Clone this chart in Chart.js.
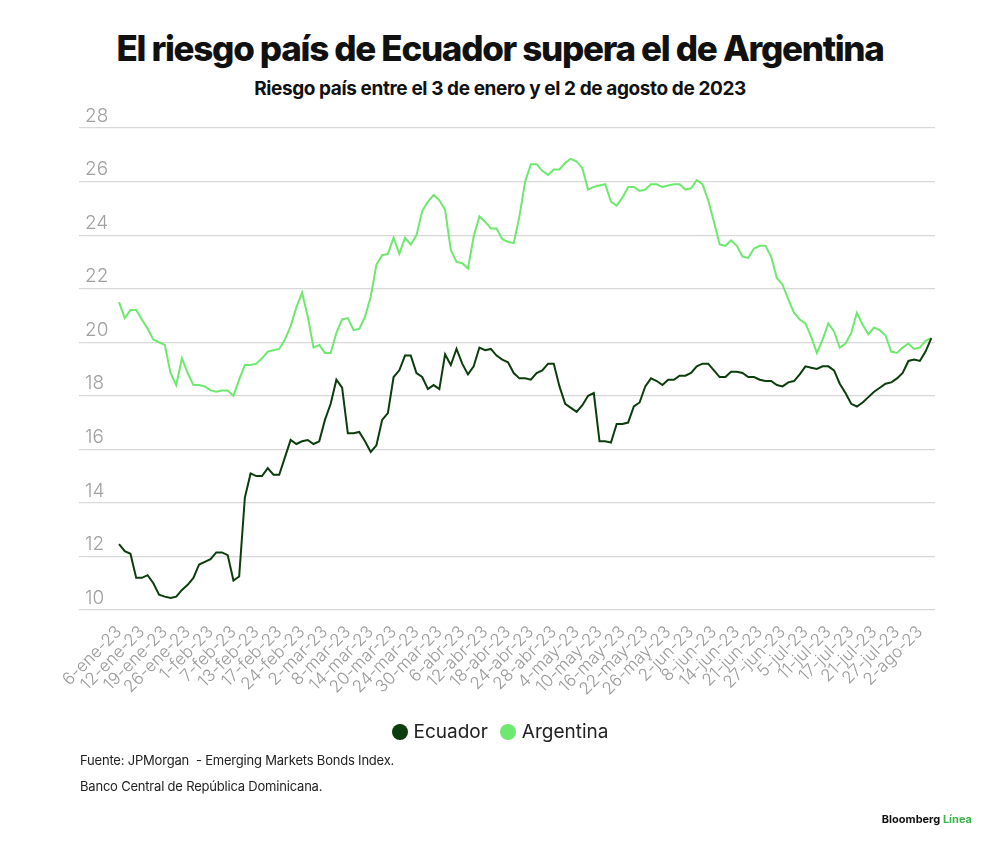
<!DOCTYPE html>
<html><head><meta charset="utf-8">
<script src="https://cdn.jsdelivr.net/npm/chart.js@4"></script>
<style>
body{margin:0;width:1000px;height:848px;background:#fff;font-family:Inter,"Noto Sans",sans-serif;position:relative;overflow:hidden}
#t{position:absolute;top:27px;left:0;width:1000px;text-align:center;font-weight:800;font-size:35px;letter-spacing:-1.3px;color:#111}
#s{position:absolute;top:77px;left:0;width:1000px;text-align:center;font-weight:700;font-size:19px;letter-spacing:-0.4px;color:#111}
canvas{position:absolute;left:0;top:0}
#lg{position:absolute;top:720px;left:0;width:1000px;text-align:center;font-size:19px;color:#222}
#lg span{display:inline-block;margin:0 6px}
#lg i{display:inline-block;width:16px;height:16px;border-radius:50%;vertical-align:-2px;margin-right:6px}
.f{position:absolute;left:80px;font-size:13px;color:#222;letter-spacing:-0.2px}
#b{position:absolute;right:28px;top:812px;font-size:11px;font-weight:700;color:#111}
</style></head><body>
<div id="t">El riesgo país de Ecuador supera el de Argentina</div>
<div id="s">Riesgo país entre el 3 de enero y el 2 de agosto de 2023</div>
<canvas id="c" width="1000" height="848"></canvas>
<div id="lg"><span><i style="background:#0c3d0c"></i>Ecuador</span><span><i style="background:#6fe86f"></i>Argentina</span></div>
<div class="f" style="top:752px">Fuente: JPMorgan &nbsp;- Emerging Markets Bonds Index.</div>
<div class="f" style="top:778px">Banco Central de República Dominicana.</div>
<div id="b">Bloomberg <span style="color:#3bb54a">Línea</span></div>
<script>
const tickLabels=["6-ene-23","12-ene-23","19-ene-23","26-ene-23","1-feb-23","7-feb-23","13-feb-23","17-feb-23","24-feb-23","2-mar-23","8-mar-23","14-mar-23","20-mar-23","24-mar-23","30-mar-23","6-abr-23","12-abr-23","18-abr-23","24-abr-23","28-abr-23","4-may-23","10-may-23","16-may-23","22-may-23","26-may-23","2-jun-23","8-jun-23","14-jun-23","21-jun-23","27-jun-23","5-jul-23","11-jul-23","17-jul-23","21-jul-23","27-jul-23","2-ago-23"];
const ecuador=[12.46,12.2,12.1,11.2,11.2,11.3,11.0,10.57,10.5,10.45,10.5,10.75,10.94,11.2,11.7,11.8,11.9,12.15,12.15,12.05,
11.1,11.25,14.2,15.1,15.0,15.0,15.3,15.05,15.05,15.7,16.35,16.2,16.3,16.35,16.2,16.3,17.1,17.7,18.6,18.3,
16.6,16.6,16.65,16.3,15.9,16.15,17.1,17.35,18.7,18.95,19.5,19.5,18.85,18.7,18.25,18.4,18.25,19.55,19.15,19.75,
19.2,18.8,19.1,19.8,19.7,19.75,19.5,19.35,19.25,18.85,18.65,18.65,18.6,18.85,18.95,19.2,19.2,18.35,17.7,17.55,
17.4,17.65,18.0,18.1,16.3,16.3,16.25,16.95,16.95,17.0,17.6,17.75,18.35,18.65,18.55,18.4,18.6,18.6,18.75,18.75,
18.85,19.1,19.2,19.2,18.95,18.7,18.7,18.9,18.9,18.85,18.7,18.7,18.6,18.55,18.55,18.4,18.35,18.5,18.55,18.8,
19.1,19.05,19.0,19.1,19.1,18.95,18.45,18.1,17.7,17.6,17.75,17.95,18.15,18.3,18.45,18.5,18.65,18.85,19.3,19.35,
19.3,19.65,20.15];
const argentina=[21.5,20.9,21.2,21.2,20.85,20.5,20.1,20.0,19.9,18.85,18.4,19.4,18.85,18.4,18.4,18.35,18.2,18.15,18.2,18.2,
18.0,18.6,19.15,19.15,19.2,19.4,19.65,19.7,19.75,20.1,20.6,21.3,21.85,20.95,19.8,19.9,19.6,19.6,20.35,20.85,
20.9,20.45,20.5,20.95,21.7,22.9,23.25,23.3,23.9,23.3,23.9,23.65,24.0,24.9,25.25,25.5,25.3,24.95,23.45,23.0,
22.95,22.75,23.95,24.7,24.5,24.25,24.25,23.85,23.75,23.7,24.7,26.0,26.65,26.65,26.4,26.25,26.45,26.45,26.7,26.85,
26.75,26.5,25.7,25.8,25.85,25.9,25.25,25.1,25.4,25.8,25.8,25.65,25.7,25.9,25.9,25.8,25.85,25.9,25.9,25.7,
25.75,26.05,25.9,25.3,24.5,23.65,23.6,23.8,23.6,23.2,23.15,23.5,23.6,23.6,23.2,22.4,22.15,21.6,21.1,20.85,
20.7,20.2,19.6,20.1,20.7,20.4,19.8,19.95,20.35,21.1,20.65,20.3,20.55,20.45,20.25,19.65,19.6,19.8,19.95,19.75,
19.8,20.05,20.15];
const pts=a=>a.map((v,i)=>({x:i,y:v}));
new Chart(document.getElementById('c'),{type:'line',
data:{datasets:[
{label:'Ecuador',data:pts(ecuador),borderColor:'#0c3d0c',borderWidth:2,pointRadius:0,tension:0},
{label:'Argentina',data:pts(argentina),borderColor:'#6fe86f',borderWidth:2,pointRadius:0,tension:0}]},
options:{responsive:false,animation:false,
layout:{padding:{left:87,right:65,top:128,bottom:148}},
plugins:{legend:{display:false},tooltip:{enabled:false}},
scales:{
x:{type:'linear',min:-5.6,max:142.65,
afterBuildTicks:s=>{s.ticks=tickLabels.map((_,k)=>({value:4*k}));},
afterFit:s=>{s.height=90;},
grid:{display:false},border:{display:false},
ticks:{autoSkip:false,maxRotation:45,minRotation:45,color:'#9a9a9a',font:{family:'Inter',size:17,weight:300},padding:4,
callback:v=>tickLabels[v/4]}},
y:{min:10,max:28,
afterFit:s=>{s.width=0;},
grid:{color:'#d8d8d8',lineWidth:1.2},border:{display:false},
ticks:{stepSize:2,mirror:true,labelOffset:-12,padding:-2,color:'#a0a0a0',font:{family:'Inter',size:19,weight:300}}}}}});
</script></body></html>
